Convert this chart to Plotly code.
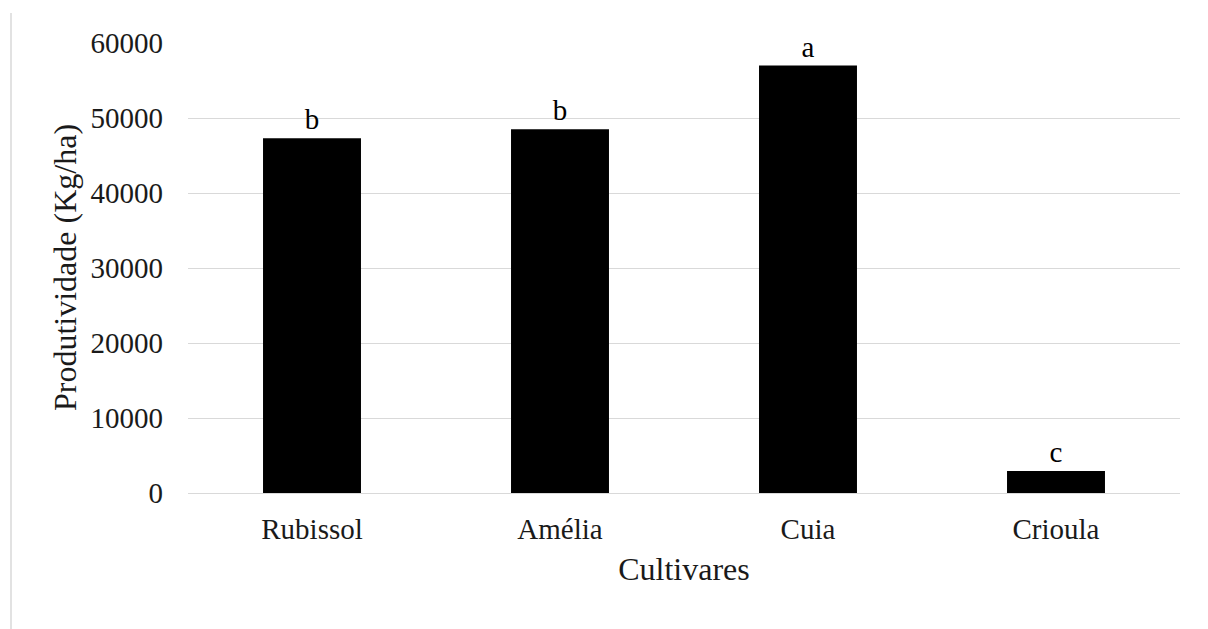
import plotly.graph_objects as go

cultivares = ["Rubissol", "Amélia", "Cuia", "Crioula"]
produtividade = [47300, 48500, 57000, 2950]
letras = ["b", "b", "a", "c"]
y_ticks = [0, 10000, 20000, 30000, 40000, 50000, 60000]

FONT = "Liberation Serif"
# page body has an 8px margin; figure is sized to fit the window
W, H = 1200, 621
ML, MR, MT, MB = 180, 28, 35, 136
PW = W - ML - MR
PH = H - MT - MB

fig = go.Figure(
    go.Bar(
        x=cultivares,
        y=produtividade,
        text=letras,
        textposition="outside",
        textfont=dict(family=FONT, size=29, color="#000000"),
        marker=dict(color="#000000", line=dict(width=0)),
        width=0.395,
        cliponaxis=False,
        hoverinfo="x+y",
    )
)

fig.update_layout(
    width=W,
    height=H,
    margin=dict(l=ML, r=MR, t=MT, b=MB, pad=0),
    paper_bgcolor="#ffffff",
    plot_bgcolor="#ffffff",
    font=dict(family=FONT, size=29, color="#000000"),
    showlegend=False,
    xaxis=dict(
        showgrid=False,
        showline=False,
        zeroline=False,
        ticks="",
        ticklabelstandoff=16,
        tickfont=dict(family=FONT, size=29, color="#1a1a1a"),
        title=dict(text="Cultivares", font=dict(family=FONT, size=32, color="#1a1a1a"), standoff=13),
    ),
    yaxis=dict(
        range=[0, 60000],
        tickvals=y_ticks,
        ticktext=[str(v) for v in y_ticks],
        showgrid=True,
        gridcolor="#d9d9d9",
        gridwidth=1,
        zeroline=True,
        zerolinecolor="#d9d9d9",
        zerolinewidth=1,
        showline=False,
        ticks="",
        ticklabelstandoff=24,
        tickfont=dict(family=FONT, size=29, color="#1a1a1a"),
    ),
    annotations=[
        dict(
            text="Produtividade (Kg/ha)",
            xref="paper",
            yref="paper",
            x=(57 - ML) / PW,
            y=0.5,
            xanchor="center",
            yanchor="middle",
            textangle=-90,
            showarrow=False,
            font=dict(family=FONT, size=32, color="#1a1a1a"),
        )
    ],
    shapes=[
        dict(
            type="line",
            xref="paper",
            yref="paper",
            x0=(3 - ML) / PW,
            x1=(3 - ML) / PW,
            y0=-MB / PH,
            y1=(H - MB - 5) / PH,
            line=dict(color="#d9d9d9", width=1.5),
        )
    ],
)

fig.write_html("out.html")
